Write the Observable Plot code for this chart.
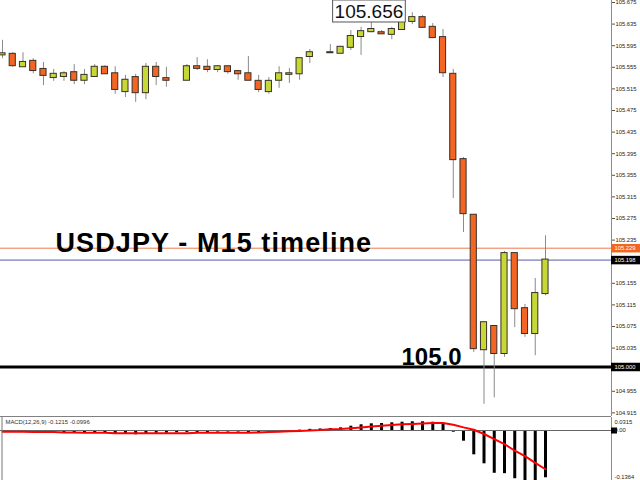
<!DOCTYPE html>
<html><head><meta charset="utf-8">
<script src="https://cdn.jsdelivr.net/npm/d3@7"></script>
<script src="https://cdn.jsdelivr.net/npm/@observablehq/plot@0.6"></script>
<style>
html,body{margin:0;padding:0;background:#fff;}
#chart{width:640px;height:480px;overflow:hidden;}
#chart svg{display:block;}
</style></head><body><div id="chart"></div>
<script>
// ---------- DATA ----------
const title = "USDJPY - M15 timeline";
const slots = [0,1,2,3,4,5,6,7,8,9,10,11,12,13,14,15,16,18,19,20,21,22,23,24,25,26,27,28,29,30,32,33,34,35,36,37,38,39,40,41,42,43,44,45,46,47,48,49,50,51,52,53];
const open  = [105.578,105.579,105.556,105.566,105.551,105.536,105.538,105.545,105.531,105.538,105.555,105.543,105.510,105.536,105.508,105.555,105.534,105.531,105.556,105.555,105.551,105.556,105.547,105.543,105.529,105.510,105.531,105.542,105.543,105.575,105.582,105.581,105.592,105.612,105.621,105.619,105.616,105.625,105.640,105.647,105.629,105.610,105.542,105.384,105.281,105.032,105.075,105.025,105.210,105.108,105.062,105.136];
const high  = [105.605,105.582,105.582,105.571,105.564,105.551,105.547,105.560,105.551,105.560,105.558,105.556,105.540,105.542,105.562,105.564,105.555,105.560,105.573,105.569,105.558,105.558,105.549,105.575,105.540,105.536,105.556,105.553,105.573,105.588,105.597,105.594,105.623,105.629,105.640,105.623,105.629,105.640,105.656,105.651,105.636,105.625,105.551,105.388,105.281,105.082,105.075,105.214,105.210,105.116,105.164,105.243];
const low   = [105.571,105.555,105.556,105.543,105.521,105.529,105.529,105.523,105.523,105.538,105.542,105.505,105.499,105.490,105.495,105.521,105.518,105.531,105.549,105.545,105.545,105.542,105.531,105.531,105.508,105.505,105.516,105.525,105.531,105.562,105.581,105.581,105.586,105.577,105.619,105.616,105.606,105.625,105.634,105.627,105.608,105.536,105.312,105.249,105.027,104.931,104.943,105.018,105.073,105.055,105.021,105.132];
const close = [105.580,105.558,105.564,105.549,105.540,105.542,105.543,105.531,105.540,105.555,105.543,105.514,105.531,105.508,105.555,105.538,105.531,105.556,105.553,105.551,105.556,105.547,105.543,105.531,105.514,105.529,105.543,105.543,105.571,105.582,105.582,105.592,105.612,105.621,105.625,105.617,105.625,105.640,105.647,105.629,105.610,105.545,105.384,105.284,105.034,105.082,105.025,105.210,105.108,105.062,105.136,105.198];

// MACD(12,26,9) per slot 0..53
const macdHist = [-0.001,-0.001,-0.0015,-0.002,-0.003,-0.004,-0.006,-0.007,-0.007,-0.006,-0.006,-0.009,-0.010,-0.011,-0.008,-0.007,-0.007,-0.006,-0.005,-0.005,-0.005,-0.004,-0.004,-0.004,-0.005,-0.006,-0.005,-0.003,-0.002,0.001,0.003,0.004,0.0051,0.0069,0.011,0.0147,0.0172,0.018,0.0198,0.0213,0.0224,0.0224,0.0213,0.0172,-0.0044,-0.0275,-0.0625,-0.0856,-0.110,-0.111,-0.124,-0.134,-0.134,-0.1215];
const macdSignal = [-0.003,-0.003,-0.003,-0.004,-0.004,-0.004,-0.005,-0.005,-0.006,-0.006,-0.006,-0.007,-0.007,-0.007,-0.007,-0.007,-0.007,-0.007,-0.007,-0.006,-0.006,-0.006,-0.006,-0.006,-0.006,-0.005,-0.004,-0.003,-0.002,-0.001,0.000,0.001,0.003,0.004,0.006,0.008,0.010,0.012,0.014,0.016,0.017,0.018,0.019,0.019,0.015,0.008,0.002,-0.009,-0.022,-0.035,-0.052,-0.066,-0.083,-0.0996];

const priceTicks = [105.675,105.635,105.595,105.555,105.515,105.475,105.435,105.395,105.355,105.315,105.275,105.235,105.155,105.115,105.075,105.035,104.955,104.915];
const markerNames  = ["ask","bid","level"];
const markerValues = [105.220,105.198,105.000];
const markerLabels = ["105.229","105.198","105.000"];
const macdTickValues = [0.0315, 0, -0.1364];
const macdTickLabels = ["0.0315","0.00","-0.1364"];

// ---------- LAYOUT ----------
const W = 640, axisX = 611, mainH = 417, macdH = 63;
const pxPerSlot = 10.245, firstX = 2;
const xDomain = [-firstX / pxPerSlot, (axisX - firstX) / pxPerSlot];
const pxPerPrice = 540;
const yTop = 105.675 + 2 / pxPerPrice, yBottom = yTop - 416 / pxPerPrice;
const pxPerMacd = 389;
const macdTop = 13 / pxPerMacd, macdBottom = -(macdH - 13) / pxPerMacd;
const axisRight = xDomain[1] + (W - axisX) / pxPerSlot;

const ORANGE = "#f26522", GREEN = "#c6d836", BORDER = "#3a3028", WICK = "#8a8a8a";
const FONT = "Liberation Sans, Arial, sans-serif";

const candles = slots.map((s, k) => ({i: s, o: open[k], h: high[k], l: low[k], c: close[k]}));
const markers = markerNames.map((n, k) => ({name: n, v: markerValues[k], label: markerLabels[k]}));
const boxColor = {ask: ORANGE, bid: "#000", level: "#000"};
const lineColor = {ask: "#f07a4a", bid: "#5a5aa8"};
let kMax = 0; high.forEach((h, k) => { if (h > high[kMax]) kMax = k; });
const peak = [{i: slots[kMax], v: high[kMax]}];

const main = Plot.plot({
  width: W, height: mainH,
  marginLeft: 0, marginRight: W - axisX, marginTop: 0, marginBottom: 1,
  x: {domain: xDomain, axis: null},
  y: {domain: [yBottom, yTop], axis: null},
  style: {fontFamily: FONT, background: "#fff", overflow: "visible"},
  marks: [
    Plot.ruleY(markers.filter(d => d.name !== "level"), {y: "v", stroke: d => lineColor[d.name], strokeWidth: 1}),
    Plot.ruleY(markers.filter(d => d.name === "level"), {y: "v", stroke: "#000", strokeWidth: 3}),
    Plot.ruleX(candles, {x: "i", y1: "l", y2: "h", stroke: WICK, strokeWidth: 1}),
    Plot.rect(candles, {x1: d => d.i - 0.3, x2: d => d.i + 0.3, y1: "o", y2: "c",
      fill: d => d.c >= d.o ? GREEN : ORANGE, stroke: BORDER, strokeWidth: 1, insetTop: -0.5, insetBottom: -0.5}),
    Plot.text([title], {frameAnchor: "top-left", dx: 55, dy: 251, lineAnchor: "bottom", textAnchor: "start",
      text: d => d, fontSize: 27, fontWeight: "bold", fill: "#000"}),
    Plot.text(markers.filter(d => d.name === "level"), {y: "v", frameAnchor: "left", dx: 401, dy: -2,
      lineAnchor: "bottom", textAnchor: "start", text: d => d.v.toFixed(1), fontSize: 24, fontWeight: "bold", fill: "#000"}),
    Plot.text(peak, {x: "i", frameAnchor: "top", dx: -9, dy: 4, lineAnchor: "top", textAnchor: "end",
      text: d => d.v.toFixed(3), fontSize: 19, fill: "#111"}),
    // separator and right axis
    Plot.ruleY([yBottom], {stroke: "#808080"}),
    Plot.ruleX([xDomain[1]], {stroke: "#8c8c8c"}),
    Plot.axisY(priceTicks, {anchor: "right", tickSize: 3, tickPadding: 1, tickFormat: d => d.toFixed(3),
      fontSize: 5.8, stroke: "#555", fill: "#222", label: null}),
    Plot.ruleY(markers, {y: "v", x1: xDomain[1], x2: axisRight, stroke: d => boxColor[d.name], strokeWidth: 8.5}),
    Plot.text(markers, {y: "v", x: xDomain[1], dx: 3, textAnchor: "start", text: "label", fontSize: 5.8, fill: "#fff"})
  ]
});

const hist = macdHist.map((v, i) => ({i, v}));
const sig = macdSignal.map((v, i) => ({i, v}));
const macdTicks = macdTickValues.map((v, k) => ({v, label: macdTickLabels[k]}));
const lastHist = macdHist[macdHist.length - 1], lastSig = macdSignal[macdSignal.length - 1];
const tickText = (rows, dy) => Plot.text(rows, {y: "v", x: xDomain[1], dx: 3, dy,
  textAnchor: "start", lineAnchor: "middle", text: "label", fontSize: 5.8, fill: "#222"});

const macd = Plot.plot({
  width: W, height: macdH,
  marginLeft: 0, marginRight: W - axisX, marginTop: 0, marginBottom: 0,
  x: {domain: xDomain, axis: null},
  y: {domain: [macdBottom, macdTop], axis: null},
  style: {fontFamily: FONT, background: "#fff", overflow: "hidden"},
  marks: [
    Plot.ruleX(hist, {x: "i", y1: 0, y2: "v", stroke: "#000", strokeWidth: 3}),
    Plot.ruleY([0], {stroke: "#666"}),
    Plot.line(sig, {x: "i", y: "v", stroke: "#ff0000", strokeWidth: 2}),
    Plot.ruleX([xDomain[0]], {stroke: "#777", dx: 1.5}),
    Plot.ruleX([xDomain[1]], {stroke: "#8c8c8c"}),
    Plot.text([`MACD(12,26,9) ${lastHist.toFixed(4)} ${lastSig.toFixed(4)}`], {frameAnchor: "top-left", dx: 5, dy: 5,
      lineAnchor: "middle", textAnchor: "start", text: d => d, fontSize: 5.9, fill: "#333"}),
    Plot.ruleY([0], {x1: xDomain[1], x2: xDomain[1] + 6 / pxPerSlot, stroke: "#000", strokeWidth: 6}),
    tickText(macdTicks.filter(d => d.v > 0), 3.5),
    tickText(macdTicks.filter(d => d.v === 0), 0),
    tickText(macdTicks.filter(d => d.v < 0), -6)
  ]
});

const root = document.getElementById("chart");
root.appendChild(main);
root.appendChild(macd);

// title letter spacing and the peak label box
d3.select(main).selectAll("text").each(function() {
  if (this.textContent === title) this.setAttribute("letter-spacing", "1.1");
  if (this.textContent === high[kMax].toFixed(3)) {
    const b = this.getBBox();
    const g = this.parentNode;
    const r = document.createElementNS("http://www.w3.org/2000/svg", "rect");
    r.setAttribute("x", b.x - 2); r.setAttribute("y", b.y - 1);
    r.setAttribute("width", b.width + 4); r.setAttribute("height", b.height + 1);
    r.setAttribute("fill", "#fff"); r.setAttribute("stroke", "#555");
    const t = this.getAttribute("transform");
    if (t) r.setAttribute("transform", t);
    g.insertBefore(r, g.firstChild);
  }
});
</script></body></html>
